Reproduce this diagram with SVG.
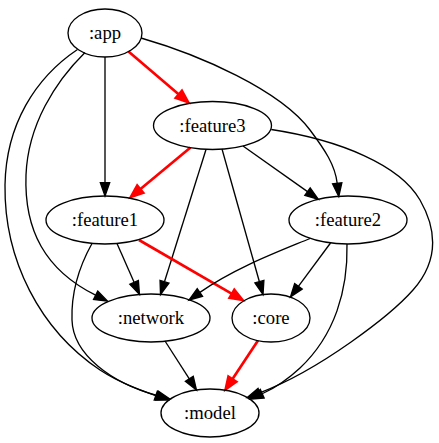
<svg xmlns="http://www.w3.org/2000/svg" width="439" height="443" viewBox="0 0 439 443">
<style>
.node ellipse{fill:none;stroke:#000;stroke-width:1.33}
.node text{font-size:18.67px;text-anchor:middle;fill:#000}
.e{fill:none;stroke:#000;stroke-width:1.33;marker-end:url(#ab)}
.r{fill:none;stroke:#ff0000;stroke-width:2.67;marker-end:url(#ar)}
</style>
<defs>
<marker id="ab" markerUnits="userSpaceOnUse" orient="auto" refX="0" refY="0" markerWidth="20" markerHeight="20" overflow="visible">
<path d="M0,-4.67 L13.3,0 L0,4.67 Z" fill="#000" stroke="#000" stroke-width="1.33"/>
</marker>
<marker id="ar" markerUnits="userSpaceOnUse" orient="auto" refX="0" refY="0" markerWidth="20" markerHeight="20" overflow="visible">
<path d="M0,-4.67 L12,0 L0,4.67 Z" fill="#ff0000" stroke="#ff0000" stroke-width="2.67"/>
</marker>
</defs>
<rect width="439" height="443" fill="#fff"/>
<g id="edges">
<path class="r" d="M128.5,51.5 L178.9,94.4"/>
<path class="e" d="M105,57 L105,182.7"/>
<path class="e" d="M85,52.5 C55,82 28,125 26,175 C24,230 45,270 95.6,295.2"/>
<path class="e" d="M77.5,49.5 C35,78 6,125 5,185 C4,260 40,330 100,370 C120,383 140,390 155.8,395.6"/>
<path class="e" d="M141,38 C200,55 280,90 310,130 C325,150 335,165 337.2,183.3"/>
<path class="r" d="M190.5,147.5 L140.2,189.2"/>
<path class="e" d="M206,149.5 L164.5,281.8"/>
<path class="e" d="M222,149 L259.4,281.7"/>
<path class="e" d="M243,146 L307.5,191.6"/>
<path class="e" d="M271.3,129.5 C340,140 400,165 420,200 C440,235 435,265 413,290 C391,315 320,370 259.7,392.8"/>
<path class="e" d="M92,243.5 C80,265 71,290 72,320 C73,355 112,383 157,395.5"/>
<path class="e" d="M117,243.5 L134.1,282.3"/>
<path class="r" d="M139,240 L232,293.8"/>
<path class="e" d="M310,238.5 C275,253 235,268 199.9,292.4"/>
<path class="e" d="M330.5,243 L298.4,286.3"/>
<path class="e" d="M347,244 C348,290 335,335 300,368 C285,382 275,388 262.2,393.75"/>
<path class="e" d="M165,341 L189.3,378.8"/>
<path class="r" d="M258,340.5 L232.35,379.2"/>
</g>
<g font-family="Liberation Serif">
<g id="app" class="node"><ellipse cx="105" cy="33" rx="37" ry="24"/><text x="105" y="39">:app</text></g>
<g id="feature3" class="node"><ellipse cx="212.5" cy="125.5" rx="59" ry="24"/><text x="212.5" y="131.5">:feature3</text></g>
<g id="feature1" class="node"><ellipse cx="105" cy="220" rx="59" ry="24"/><text x="105" y="226">:feature1</text></g>
<g id="feature2" class="node"><ellipse cx="348" cy="220" rx="59" ry="24"/><text x="348" y="226">:feature2</text></g>
<g id="network" class="node"><ellipse cx="151" cy="318" rx="59" ry="24"/><text x="151" y="324">:network</text></g>
<g id="core" class="node"><ellipse cx="271" cy="318" rx="39" ry="24"/><text x="271" y="324">:core</text></g>
<g id="model" class="node"><ellipse cx="210" cy="413" rx="49" ry="24"/><text x="210" y="419">:model</text></g>
</g>
</svg>
